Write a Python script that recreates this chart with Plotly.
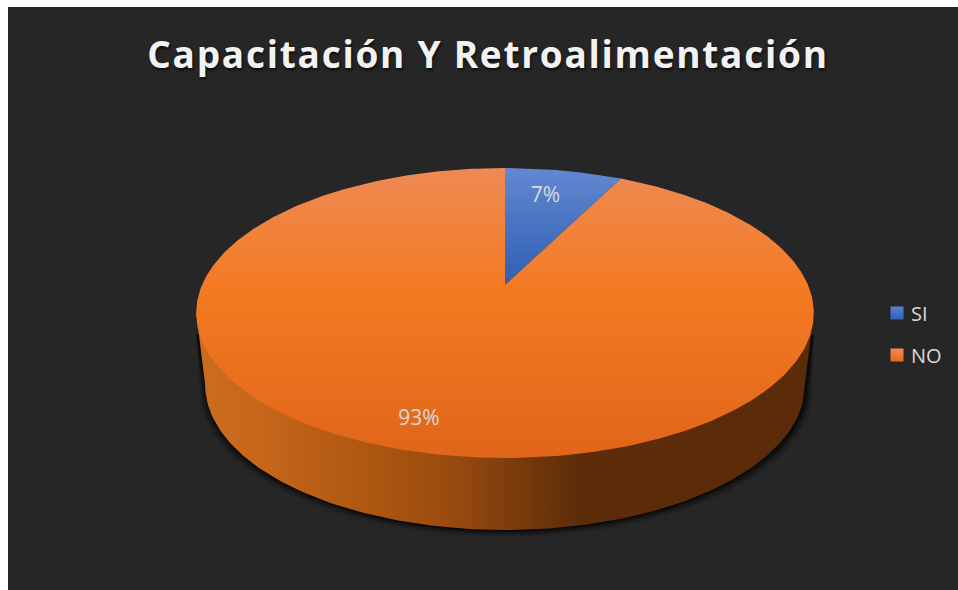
import numpy as np
import plotly.graph_objects as go

categories = ["SI", "NO"]
values = [2, 25]
slice_tops = [["#6288D0", "#2F5EB4"], ["#EE8A55", "#F47A22", "#E1651A"]]
legend_tops = ["#5B83CF", "#EE8A55"]
legend_bottoms = ["#2F60B5", "#E8691C"]

# projection of the pie disc onto the picture
CX, CY = 505, 285
A, B, K = 139.6, 303.0, 0.193
WALL_DX = 0.971
WALL_DY = 72

def project(theta, r=1.0):
    u, v = r * np.sin(theta), r * np.cos(theta)
    d = 1 + K * v
    return CX + B * u / d, CY - A * v / d

total = sum(values)
fracs = [v / total for v in values]
edges = np.cumsum([0] + fracs) * 2 * np.pi

fig = go.Figure()

# full rim, top and bottom of the disc
t = np.linspace(0, 2 * np.pi, 361)
rx, ry = project(t)
bx = CX + (rx - CX) * WALL_DX
by = ry + WALL_DY

# silhouette of the wall: lower half of the bottom rim closed by the top rim
left_i = int(np.argmin(rx))
right_i = int(np.argmax(rx))
sil_x = np.r_[rx[right_i], bx[right_i:left_i + 1], rx[left_i]]
sil_y = np.r_[ry[right_i], by[right_i:left_i + 1], ry[left_i]]

# soft shadow below the wall, tapering away up the sides of the wall
for grow, alpha in [(7, 0.10), (5, 0.18), (3, 0.28), (1.5, 0.4)]:
    arc_x = bx[right_i:left_i + 1]
    arc_y = by[right_i:left_i + 1]
    shadow_x = np.r_[rx[right_i], arc_x + np.sign(arc_x - CX) * grow * np.abs(arc_x - CX) / 300 + 1, rx[left_i]]
    shadow_y = np.r_[ry[right_i] + 22, arc_y + grow, ry[left_i] + 22]
    fig.add_trace(go.Scatter(
        x=shadow_x, y=shadow_y, mode="lines", fill="toself", line=dict(width=0),
        fillcolor=f"rgba(0,0,0,{alpha})", hoverinfo="skip", showlegend=False))

# wall
fig.add_trace(go.Scatter(
    x=sil_x, y=sil_y, mode="lines", fill="toself", line=dict(width=0),
    fillgradient=dict(type="horizontal", start=196, stop=814, colorscale=[
        [0.00, "#CC6D1E"], [0.12, "#C4651A"], [0.28, "#AD5711"], [0.42, "#984A0E"],
        [0.50, "#7E3E0C"], [0.62, "#5D2D0A"], [1.00, "#5B2B0A"]]),
    hoverinfo="skip", showlegend=False))

# top of the slices
Y0, Y1 = 168, 458
for i, name in enumerate(categories):
    th = np.linspace(edges[i], edges[i + 1], 400)
    x, y = project(th)
    x = np.r_[CX, x, CX]
    y = np.r_[CY, y, CY]
    if i == 0:
        grad = dict(type="vertical", start=168, stop=285,
                    colorscale=[[0, slice_tops[0][0]], [1, slice_tops[0][1]]])
    else:
        grad = dict(type="vertical", start=Y0, stop=Y1,
                    colorscale=[[0, slice_tops[1][0]], [0.42, slice_tops[1][1]], [1, slice_tops[1][2]]])
    fig.add_trace(go.Scatter(x=x, y=y, mode="lines", fill="toself", line=dict(width=0),
                             fillgradient=grad, name=name, showlegend=False,
                             hovertemplate=name + ": %{text}<extra></extra>",
                             text=[f"{fracs[i]:.0%}"] * len(x)))

# data labels
label_r = [0.74, 0.85]
label_shift = [np.radians(-1.5), np.radians(3)]
for i, name in enumerate(categories):
    mid = (edges[i] + edges[i + 1]) / 2 + label_shift[i]
    lx, ly = project(mid, label_r[i])
    fig.add_trace(go.Scatter(x=[lx], y=[ly], mode="text", text=[f"{fracs[i]:.0%}"],
                             textfont=dict(family="Open Sans", size=21, color="#D9D9D9"),
                             hoverinfo="skip", showlegend=False))

# legend
for i, name in enumerate(categories):
    fig.add_trace(go.Scatter(x=[None], y=[None], mode="markers", name=name, legendgroup=name,
                             marker=dict(symbol="square", size=13, color=legend_tops[i],
                                         gradient=dict(type="vertical", color=legend_bottoms[i]))))

FIG_W, FIG_H = 950, 583
fig.update_layout(
    width=FIG_W, height=FIG_H,
    margin=dict(l=0, r=0, t=0, b=0),
    paper_bgcolor="#262626", plot_bgcolor="#262626",
    xaxis=dict(range=[8, 958], visible=False, fixedrange=True),
    yaxis=dict(range=[590, 7], visible=False, fixedrange=True),
    title=dict(text="Capacitación Y Retroalimentación", x=(488 - 8) / FIG_W, xanchor="center",
               y=1 - (55 - 7) / FIG_H, yanchor="middle",
               font=dict(family="Open Sans", size=37, weight=700, color="#F2F2F2",
                         shadow="1px 2px 3px rgba(0,0,0,0.7)")),
    legend=dict(x=(877 - 8) / FIG_W, xanchor="left", y=0.5086, yanchor="top", tracegroupgap=13,
                bgcolor="rgba(0,0,0,0)", font=dict(family="Open Sans", size=20, color="#D9D9D9")),
)
post = """
document.body.style.margin = '7px 0 0 8px';
document.querySelectorAll('.gtitle').forEach(function (t) { t.style.letterSpacing = '1.74px'; });
document.querySelectorAll('.legendtext').forEach(function (t) { t.setAttribute('x', 34); });
"""
fig.write_html("out.html", post_script=post)
